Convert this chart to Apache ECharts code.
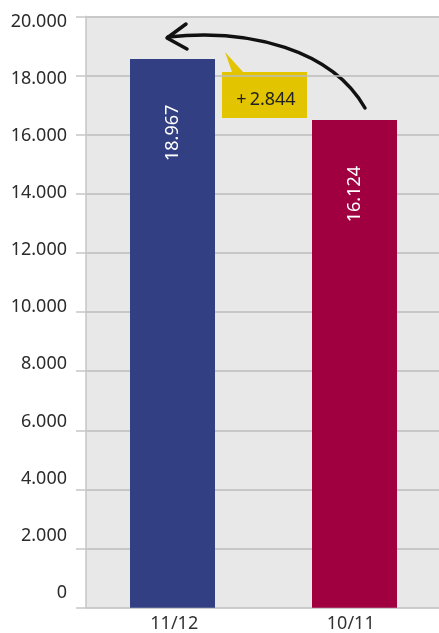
<!DOCTYPE html>
<html>
<head>
<meta charset="utf-8">
<script src="https://cdn.jsdelivr.net/npm/echarts@6/dist/echarts.min.js"></script>
<style>
  html, body { margin: 0; padding: 0; background: #fff; }
  #main { width: 439px; height: 633px; }
</style>
</head>
<body>
<div id="main"></div>
<script>
// data
var categories = ["11/12", "10/11"];
var barHeights = [18560, 16490];      // bar tops as drawn
var barLabels = ["18.967", "16.124"]; // printed values
var barColors = ["#324083", "#a10040"];
var yTicks = [0, 2000, 4000, 6000, 8000, 10000, 12000, 14000, 16000, 18000, 20000];
var diffLabel = "+2.844";

var font = "'Noto Sans', 'Open Sans', sans-serif";
var yMax = yTicks[yTicks.length - 1];
var yStep = yTicks[1] - yTicks[0];

function fmt(v) {
  if (v === 0) return "0";
  var s = String(v);
  return s.slice(0, s.length - 3) + "." + s.slice(-3);
}

var myChart = echarts.init(document.getElementById("main"));
myChart.setOption({
  animation: false,
  grid: [
    // background, gridlines, axis line, x labels
    { left: 86, right: 0, top: 16.3, bottom: 25.3, show: true, backgroundColor: "#e8e8e8", borderWidth: 0, outerBoundsMode: "none" },
    // bars (band slightly wider than the plot)
    { left: 81.5, width: 364, top: 16.3, bottom: 25.3, outerBoundsMode: "none" },
    // y tick labels (they sit a little above their lines)
    { left: 86, right: 0, top: 21.7, bottom: 40.3, outerBoundsMode: "none" }
  ],
  xAxis: [
    {
      type: "category", gridIndex: 0, data: categories,
      axisLine: { show: false }, axisTick: { show: false },
      axisLabel: { margin: 7, fontSize: 18, color: "#333", fontFamily: font }
    },
    { type: "category", gridIndex: 1, data: categories, show: false },
    { type: "category", gridIndex: 2, data: categories, show: false }
  ],
  yAxis: [
    {
      type: "value", gridIndex: 0, min: 0, max: yMax, interval: yStep,
      axisLine: { show: true, lineStyle: { color: "#c6c6c6", width: 1.5 } },
      axisTick: { show: true, length: 10, lineStyle: { color: "#c6c6c6", width: 1.5 } },
      axisLabel: { show: false },
      splitLine: { lineStyle: { color: "#bdbdbd", width: 1.5 } }
    },
    { type: "value", gridIndex: 1, min: 0, max: yMax, interval: yStep, show: false },
    {
      type: "value", gridIndex: 2, min: 0, max: yMax, interval: yStep,
      axisLine: { show: false }, axisTick: { show: false }, splitLine: { show: false },
      axisLabel: { margin: 19, fontSize: 18, color: "#2b2b2b", fontFamily: font, formatter: fmt }
    }
  ],
  series: [
    {
      type: "bar",
      xAxisIndex: 1,
      yAxisIndex: 1,
      barWidth: 85,
      data: barHeights.map(function (v, i) {
        return { value: v, itemStyle: { color: barColors[i] } };
      }),
      label: {
        show: true,
        position: ["50%", 74],
        rotate: 90,
        align: "center",
        verticalAlign: "middle",
        color: "#fff",
        fontSize: 18,
        fontFamily: font,
        formatter: function (p) { return barLabels[p.dataIndex]; }
      }
    }
  ],
  graphic: [
    // yellow callout
    {
      type: "polygon",
      shape: { points: [[222, 72], [232, 72], [225, 52], [243, 72], [307, 72], [307, 118], [222, 118]] },
      style: { fill: "#e2c400" }
    },
    {
      type: "text", x: 266, y: 100,
      style: { text: diffLabel.replace("+", "+\u2009"), fill: "#222", font: "18px " + font, align: "center", verticalAlign: "middle" }
    },
    // curved arrow
    {
      type: "bezierCurve",
      shape: { x1: 365, y1: 108, cpx1: 332, cpy1: 50, cpx2: 250, cpy2: 28, x2: 168, y2: 37 },
      style: { stroke: "#111", lineWidth: 3.5, fill: null, lineCap: "round" }
    },
    {
      type: "polyline",
      shape: { points: [[186, 24], [167, 38], [187, 49]] },
      style: { stroke: "#111", lineWidth: 3.5, fill: null, lineCap: "round", lineJoin: "round" }
    }
  ]
});
</script>
</body>
</html>
